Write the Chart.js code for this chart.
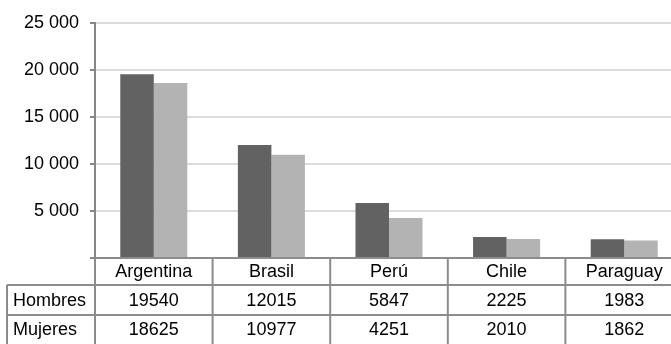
<!DOCTYPE html>
<html>
<head>
<meta charset="utf-8">
<script src="https://cdn.jsdelivr.net/npm/chart.js@4"></script>
<style>
  html, body { margin: 0; padding: 0; background: #fff; }
  #wrap { width: 671px; height: 344px; overflow: hidden; position: relative; }
  #chart { display: block; }
</style>
</head>
<body>
<div id="wrap"><canvas id="chart" width="683" height="344"></canvas></div>
<script>
  // data
  const categories = ['Argentina', 'Brasil', 'Perú', 'Chile', 'Paraguay'];
  const seriesNames = ['Hombres', 'Mujeres'];
  const hombres = [19540, 12015, 5847, 2225, 1983];
  const mujeres = [18625, 10977, 4251, 2010, 1862];
  const yMax = 25000;
  const yStep = 5000;

  const lineGray = '#8c8c8c';

  function fmt(v) {
    if (v === 0) return '';
    return String(v).replace(/\B(?=(\d{3})+(?!\d))/g, ' ');
  }

  // draws the data table under the bars, lined up with the x scale
  const dataTable = {
    id: 'dataTable',
    afterDraw(chart) {
      const ctx = chart.ctx;
      const x = chart.scales.x;
      const area = chart.chartArea;
      const step = (area.right - area.left) / categories.length;
      const top = area.bottom;
      const row1 = top + 27;
      const row2 = top + 57;
      const bottom = chart.height;
      const rows = [hombres, mujeres];

      ctx.save();
      ctx.strokeStyle = lineGray;
      ctx.lineWidth = 2;
      ctx.beginPath();
      ctx.moveTo(area.left, top); ctx.lineTo(chart.width, top);
      ctx.moveTo(7, row1); ctx.lineTo(chart.width, row1);
      ctx.moveTo(7, row2); ctx.lineTo(chart.width, row2);
      ctx.moveTo(7, row1); ctx.lineTo(7, bottom);
      for (let i = 0; i <= categories.length; i++) {
        const bx = area.left + i * step;
        ctx.moveTo(bx, top); ctx.lineTo(bx, bottom);
      }
      ctx.stroke();

      ctx.fillStyle = '#000';
      ctx.font = '18px "Liberation Sans", Arial, sans-serif';
      ctx.textBaseline = 'middle';
      ctx.textAlign = 'center';
      categories.forEach((c, i) => {
        const cx = x.getPixelForValue(i);
        ctx.fillText(c, cx, (top + row1) / 2 + 1);
        ctx.fillText(String(rows[0][i]), cx, (row1 + row2) / 2 + 1);
        ctx.fillText(String(rows[1][i]), cx, (row2 + bottom) / 2 + 1);
      });
      ctx.textAlign = 'left';
      ctx.fillText(seriesNames[0], 13, (row1 + row2) / 2 + 1);
      ctx.fillText(seriesNames[1], 13, (row2 + bottom) / 2 + 1);
      ctx.restore();
    }
  };

  Chart.defaults.font.family = '"Liberation Sans", Arial, sans-serif';
  Chart.defaults.font.size = 18;
  Chart.defaults.color = '#000';

  const ctx = document.getElementById('chart').getContext('2d');
  const chart = new Chart(ctx, {
    type: 'bar',
    data: {
      labels: categories,
      datasets: [{
        label: seriesNames[0],
        data: hombres,
        backgroundColor: '#626262',
        categoryPercentage: 0.57,
        barPercentage: 1
      }, {
        label: seriesNames[1],
        data: mujeres,
        backgroundColor: '#b3b3b3',
        categoryPercentage: 0.57,
        barPercentage: 1
      }]
    },
    options: {
      responsive: false,
      animation: false,
      layout: { padding: { top: 23, right: 0, bottom: 86, left: 0 } },
      plugins: {
        legend: { display: false },
        tooltip: { enabled: false }
      },
      scales: {
        x: { display: false },
        y: {
          min: 0,
          max: yMax,
          afterFit(scale) { scale.width = 95; },
          ticks: {
            stepSize: yStep,
            padding: 11,
            callback: v => fmt(v)
          },
          grid: {
            color: '#dcdcdc',
            lineWidth: 2,
            drawTicks: true,
            tickLength: 5,
            tickColor: '#868686',
            tickWidth: 2
          },
          border: { display: true, color: '#868686', width: 2 }
        }
      }
    },
    plugins: [dataTable]
  });
</script>
</body>
</html>
